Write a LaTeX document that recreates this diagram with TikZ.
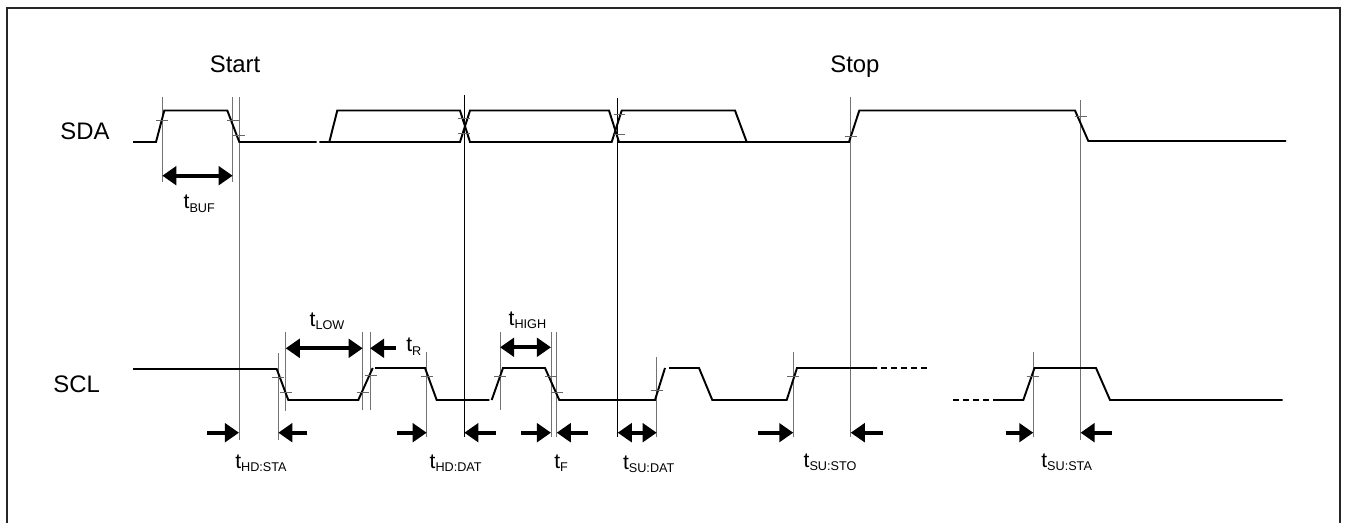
\documentclass[tikz,border=0pt]{standalone}
\usepackage{fontspec}
\setmainfont{Liberation Sans}
\usetikzlibrary{arrows.meta}
\newcommand\tlab[1]{{\fontsize{12}{14}\selectfont t}\raisebox{-1.8pt}{\fontsize{7.2}{9}\selectfont #1}}

\begin{document}
\begin{tikzpicture}[x=0.02cm, y=-0.02cm,
    wave/.style={line width=1.1pt},
    guide/.style={line width=0.55pt, black!55},
    guidedark/.style={line width=0.55pt, black},
    tickmark/.style={line width=0.5pt, black!60},
    timeto/.style={line width=2.1pt, -{Triangle[length=8pt,width=10.5pt]}},
    timespan/.style={line width=2.1pt, {Triangle[length=8pt,width=10.5pt]}-{Triangle[length=8pt,width=10.5pt]}},
    every node/.style={inner sep=0pt, anchor=base west}]
    \useasboundingbox (0,0) rectangle (1349,523);
    % frame
    \draw[line width=0.9pt, black!85] (7,523) -- (7,8) -- (1340,8) -- (1340,523);

    % signal names and events
    \node[font=\fontsize{13.6}{16}\selectfont] (sda) at (60,140) {SDA};
    \node[font=\fontsize{13.6}{16}\selectfont] (scl) at (53,393) {SCL};
    \node[font=\fontsize{13.6}{16}\selectfont] (start) at (209.5,73) {Start};
    \node[font=\fontsize{13.6}{16}\selectfont] (stop) at (830,73) {Stop};

    % reference lines
    \draw[guide] (162.3,97) -- (162.3,182) (232.7,97) -- (232.7,182)
        (239,97) -- (239,440) (850.7,97) -- (850.7,437) (1080.5,100) -- (1080.5,440);
    \draw[guidedark] (464.3,95) -- (464.3,437) (617.7,98) -- (617.7,437);
    \draw[guide] (278.3,353) -- (278.3,440) (285.7,332) -- (285.7,411)
        (362.7,332) -- (362.7,410) (370,332) -- (370,410)
        (426.7,352) -- (426.7,437) (500,332) -- (500,410)
        (551,332) -- (551,437) (556.7,332) -- (556.7,437)
        (656.7,357) -- (656.7,437) (793.3,352) -- (793.3,437)
        (1033.3,352) -- (1033.3,437);

    % SDA
    \draw[wave] (133,142) -- (156,142) -- (164.3,110.5) -- (227.3,110.5) -- (239.3,142) -- (316.7,142);
    \draw[wave] (329.3,142) -- (337.3,110.5) -- (460,110.5) -- (470,142) -- (611.7,142)
        -- (621.7,110.5) -- (735,110.5) -- (746.7,142);
    \draw[wave] (319.3,142) -- (460,142) -- (470,110.5) -- (609,110.5) -- (619,142)
        -- (849,142) -- (859.3,110.5) -- (1075,110.5) -- (1088.3,141) -- (1286,141);

    % SCL
    \draw[wave] (133,369) -- (276.7,369) -- (288.3,400) -- (358.3,400) -- (372.7,368);
    \draw[wave] (375,368) -- (425,368) -- (436.7,400) -- (489.3,400);
    \draw[wave] (491.7,400) -- (503,368) -- (545,368) -- (559.3,400) -- (655,400) -- (665,368);
    \draw[wave] (669,368) -- (699,368) -- (712.3,400) -- (786.7,400) -- (797,368) -- (877,368);
    \draw[wave, dash pattern=on 3.4pt off 2.3pt] (881,368) -- (927,368) (953,400) -- (998,400);
    \draw[wave] (998,400) -- (1023.3,400) -- (1034.5,368) -- (1096,368) -- (1110,400) -- (1282.7,400);

    % level marks
    \draw[tickmark] (156.3,120.5) -- (168.3,120.5) (226.7,120.5) -- (238.7,120.5)
        (233,135) -- (245,135) (458.3,118.3) -- (470.3,118.3) (458.3,133.3) -- (470.3,133.3)
        (613.7,114.3) -- (624.7,114.3) (613.7,134.3) -- (624.7,134.3)
        (844.7,136) -- (856.7,136) (1074.5,116.7) -- (1086.5,116.7);
    \draw[tickmark] (272.3,377) -- (284.3,377) (279.7,392.7) -- (291.7,392.7)
        (356.7,392.7) -- (368.7,392.7) (364.5,375) -- (376.5,375)
        (420.7,376) -- (432.7,376) (494,376) -- (506,376)
        (545,376) -- (557,376) (550.7,392.7) -- (562.7,392.7)
        (650.7,390.7) -- (662.7,390.7) (787.3,376) -- (799.3,376)
        (1027.3,376) -- (1039.3,376);

    % timing arrows
    \draw[timespan] (162.3,175.7) -- (232.7,175.7);
    \node (tbuf) at (183.3,209) {\tlab{BUF}};
    \draw[timespan] (285.7,348.3) -- (362.7,348.3);
    \node (tlow) at (309.3,326.5) {\tlab{LOW}};
    \draw[timeto] (396,348.3) -- (370,348.3);
    \node (tr) at (406,352) {\tlab{R}};
    \draw[timespan] (500,347.3) -- (551,347.3);
    \node (thigh) at (508.3,325.5) {\tlab{HIGH}};

    \draw[timeto] (207.3,432.7) -- (239,432.7);
    \draw[timeto] (307.3,432.7) -- (278.3,432.7);
    \node (thdsta) at (235,468) {\tlab{HD:STA}};
    \draw[timeto] (397.3,432.7) -- (426.7,432.7);
    \draw[timeto] (496,432.7) -- (464.3,432.7);
    \node (thddat) at (429.3,468) {\tlab{HD:DAT}};
    \draw[timeto] (521,432.7) -- (551,432.7);
    \draw[timeto] (588.3,432.7) -- (556.7,432.7);
    \node (tf) at (554,468) {\tlab{F}};
    \draw[timespan] (617.7,432.7) -- (656.7,432.7);
    \node (tsudat) at (622.7,469) {\tlab{SU:DAT}};
    \draw[timeto] (758.3,432.7) -- (793.3,432.7);
    \draw[timeto] (882.7,432.7) -- (850.7,432.7);
    \node (tsusto) at (803.3,467) {\tlab{SU:STO}};
    \draw[timeto] (1005.7,432.7) -- (1033.3,432.7);
    \draw[timeto] (1112.3,432.7) -- (1080.5,432.7);
    \node (tsusta) at (1041,467) {\tlab{SU:STA}};
\end{tikzpicture}
\end{document}
